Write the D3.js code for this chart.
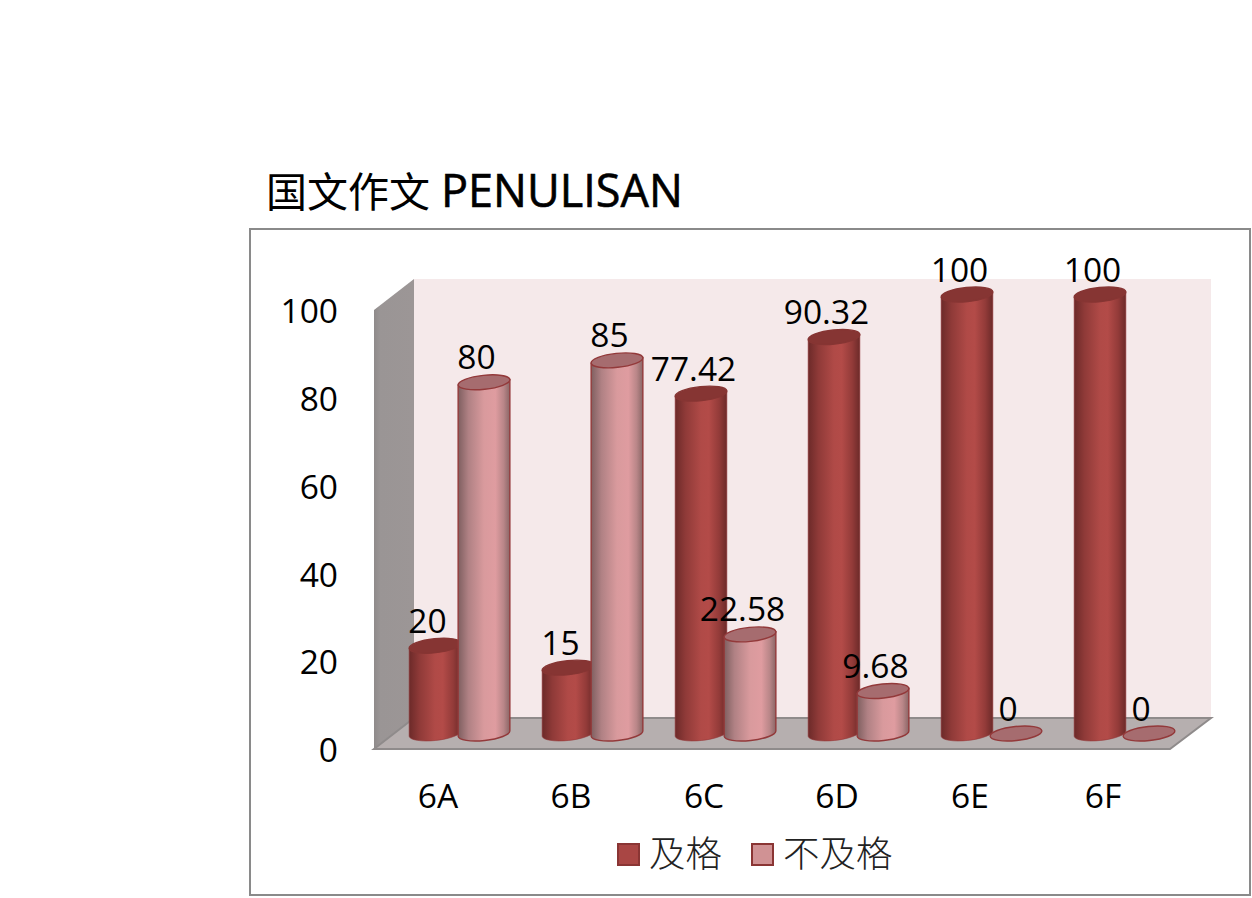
<!DOCTYPE html>
<html>
<head>
<meta charset="utf-8">
<script src="https://cdnjs.cloudflare.com/ajax/libs/d3/7.8.5/d3.min.js"></script>
<style>
html, body { margin: 0; background: #fff; }
svg { display: block; }
text { font-family: "Open Sans", "Noto Sans CJK SC", sans-serif; fill: #000; }
</style>
</head>
<body>
<svg id="chart"></svg>
<script>
var categories = ["6A", "6B", "6C", "6D", "6E", "6F"];
var seriesNames = ["及格", "不及格"];
var lulus = [20, 15, 77.42, 90.32, 100, 100];
var gagal = [80, 85, 22.58, 9.68, 0, 0];
var yTicks = [0, 20, 40, 60, 80, 100];

var svg = d3.select("#chart").attr("width", 1252).attr("height", 898);
var defs = svg.append("defs");

function gradient(id, stops) {
	var g = defs.append("linearGradient").attr("id", id);
	stops.forEach(function (s) {
		g.append("stop").attr("offset", s[0]).attr("stop-color", s[1]);
	});
}
gradient("red", [[0, "#6c2a29"], [0.2, "#8f3a38"], [0.5, "#b04a47"], [0.65, "#b34b48"], [0.85, "#933b39"], [1, "#6c2a29"]]);
gradient("pink", [[0, "#7f5f60"], [0.2, "#b08184"], [0.5, "#d99a9d"], [0.72, "#df9ca0"], [0.88, "#b98688"], [1, "#8a6666"]]);
gradient("side", [[0, "#8f8b8b"], [0.15, "#9a9595"], [1, "#9c9696"]]);

svg.append("rect").attr("x", 250).attr("y", 229).attr("width", 1000).attr("height", 666)
	.attr("fill", "#fff").attr("stroke", "#8a8a8a").attr("stroke-width", 2);

var title = svg.append("text").attr("x", 266).attr("y", 207);
title.append("tspan").attr("font-size", 41).text("国文作文");
title.append("tspan").attr("x", 441).attr("font-size", 45).attr("stroke", "#000").attr("stroke-width", 0.6).text("PENULISAN");

// 3d box
var depthX = 40, depthY = 31;
var x0 = d3.scaleBand().domain(categories).range([372, 1170]);
var x1 = d3.scaleBand().domain(seriesNames).range([-50, 50]);
var y = d3.scaleLinear().domain([0, 100]).range([749, 310]);
var left = 374, right = 1170;

svg.append("polygon").attr("fill", "#f5e9ea")
	.attr("points", [[left + depthX, y(100) - depthY], [right + depthX + 1, y(100) - depthY], [right + depthX + 1, y(0) - depthY], [left + depthX, y(0) - depthY]].join(" "));
svg.append("polygon").attr("fill", "url(#side)")
	.attr("points", [[left, y(100)], [left + depthX, y(100) - depthY], [left + depthX, y(0) - depthY], [left, y(0)]].join(" "));
svg.append("polygon").attr("fill", "#b6afaf").attr("stroke", "#8f8b8b").attr("stroke-width", 2)
	.attr("points", [[left, y(0)], [left + depthX, y(0) - depthY], [right + depthX + 1, y(0) - depthY], [right, y(0)]].join(" "));

// cylinders
var rx = 26, ry = 7, tilt = 6;
var dx = rx * Math.cos(tilt * Math.PI / 180), dy = rx * Math.sin(tilt * Math.PI / 180);
var lift = 15.5, shift = 20.5;

var bars = [];
categories.forEach(function (c, i) {
	bars.push({ c: c, s: seriesNames[0], v: lulus[i] });
	bars.push({ c: c, s: seriesNames[1], v: gagal[i] });
});
function cx(d) { return x0(d.c) + x0.bandwidth() / 2 + shift + x1(d.s) + x1.bandwidth() / 2 + (d.s == seriesNames[0] ? 1 : 0); }

var bar = svg.selectAll("g.bar").data(bars).enter().append("g").attr("class", "bar");

bar.filter(function (d) { return d.v > 0; }).append("path")
	.attr("fill", function (d) { return d.s == seriesNames[0] ? "url(#red)" : "url(#pink)"; })
	.attr("stroke", "#93393a").attr("stroke-width", function (d) { return d.s == seriesNames[0] ? 0.6 : 1.4; })
	.attr("d", function (d) {
		var c = cx(d), top = y(d.v) - lift, base = y(0) - lift;
		return "M" + (c - dx) + "," + (top + dy) + "L" + (c - dx) + "," + (base + dy) +
			"A" + rx + "," + ry + " " + (-tilt) + " 0 0 " + (c + dx) + "," + (base - dy) +
			"L" + (c + dx) + "," + (top - dy) + "Z";
	});

bar.append("ellipse")
	.attr("rx", rx).attr("ry", ry)
	.attr("transform", function (d) { return "translate(" + cx(d) + "," + (y(d.v) - lift) + ") rotate(" + (-tilt) + ")"; })
	.attr("fill", function (d) { return d.s == seriesNames[0] ? "#863533" : "#a66c6f"; })
	.attr("stroke", function (d) { return d.s == seriesNames[0] ? "#863533" : "#93393a"; })
	.attr("stroke-width", 1.4);

svg.selectAll("text.val").data(bars).enter().append("text")
	.attr("class", "val")
	.attr("text-anchor", "middle")
	.attr("font-size", 33.5)
	.attr("x", function (d) { return cx(d) - (d.v == 0 ? 8 : 7.5); })
	.attr("y", function (d) { return y(d.v) - lift - 13; })
	.text(function (d) { return d.v; });

// axes
var yAxis = svg.append("g").attr("transform", "translate(350,2)")
	.call(d3.axisLeft(y).tickValues(yTicks).tickSize(0).tickPadding(12));
var xAxis = svg.append("g").attr("transform", "translate(-0.5,784)")
	.call(d3.axisBottom(x0).tickSize(0).tickPadding(0));
[yAxis, xAxis].forEach(function (a) {
	a.select(".domain").remove();
	a.selectAll("text").attr("font-size", 33.5).attr("font-family", null).style("fill", "#000");
	a.attr("font-family", null);
});

// legend
var legendX = [618, 752], legendFill = ["#a94644", "#d09294"];
seriesNames.forEach(function (s, i) {
	svg.append("rect").attr("x", legendX[i]).attr("y", 844).attr("width", 21).attr("height", 21)
		.attr("fill", legendFill[i]).attr("stroke", "#8a3534").attr("stroke-width", 2);
	svg.append("text").attr("x", legendX[i] + 31).attr("y", 867).attr("font-size", 36.5).attr("font-weight", 300).style("fill", "#222").text(s);
});
</script>
</body>
</html>
